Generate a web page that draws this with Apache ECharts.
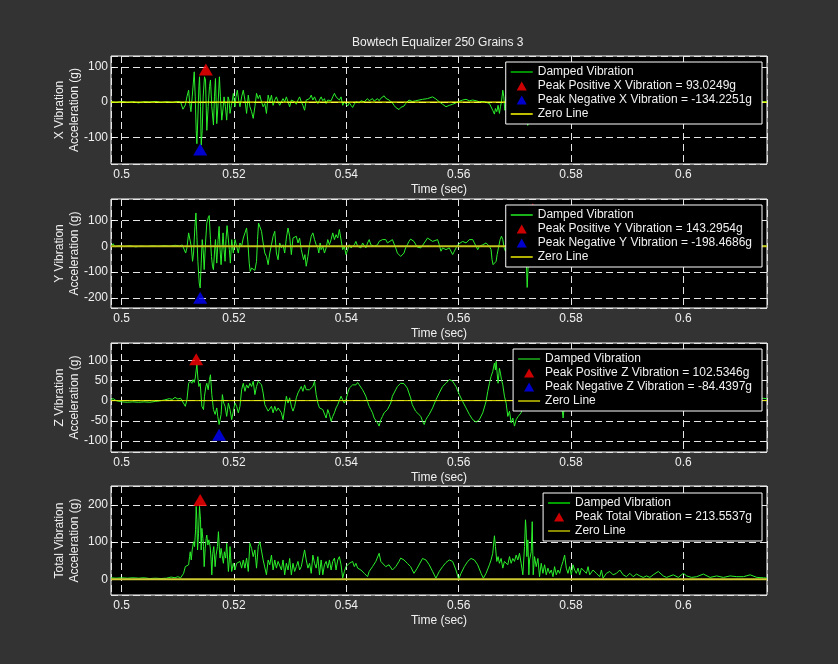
<!DOCTYPE html>
<html><head><meta charset="utf-8">
<script src="https://cdn.jsdelivr.net/npm/echarts@6/dist/echarts.min.js"></script>
<style>html,body{margin:0;padding:0;background:#333333;}#c{width:838px;height:664px;}</style>
</head><body><div id="c"></div>
<script>
const chartTitle = 'Bowtech Equalizer 250 Grains 3';
const timeRange = [0.4981, 0.6149];
const xLim = [-175.5, 131];
const yLim = [-238.5, 183];
const zLim = [-127, 142.6];
const totalLim = [-42.3, 251];

// [time (s), acceleration (g)]
const xVib = [
[0.4981,1],[0.4990,-1],[0.5000,2],[0.5010,-1],[0.5020,1],[0.5030,-2],[0.5040,1],[0.5050,0],[0.5060,2],[0.5070,-1],[0.5080,1],[0.5090,-1],[0.5100,2],[0.5105,0],
[0.51091,-20],[0.51133,-8],[0.51162,15],[0.51192,34],[0.51209,1],[0.51233,-27],[0.51256,15],[0.51280,63],[0.51292,86],[0.51310,15],[0.51327,-80],[0.51339,-118],
[0.51357,-42],[0.51375,44],[0.51386,72],[0.51404,-13],[0.51416,-122],[0.51434,-80],[0.51451,15],[0.51475,72],[0.51493,63],[0.51516,-80],[0.51540,-13],[0.51564,44],
[0.51581,63],[0.51605,-13],[0.51634,-65],[0.51652,15],[0.51670,67],[0.51693,-61],[0.51717,-4],[0.51740,72],[0.51758,15],[0.51782,-51],[0.51805,-18],[0.51823,15],
[0.51847,-13],[0.51870,-51],[0.51894,15],[0.51912,6],[0.51929,-32],[0.51953,-9],[0.51971,6],[0.51988,25],[0.52018,-13],[0.52035,15],[0.52059,34],[0.52083,6],
[0.52106,-13],[0.52136,15],[0.52165,34],[0.52195,6],[0.52224,-32],[0.52254,20],[0.52283,-13],[0.52313,-27],[0.52342,-46],[0.52372,-13],[0.52401,25],[0.52431,10],
[0.52460,20],[0.52490,1],[0.52519,-13],[0.52549,-4],[0.52578,-32],[0.52608,20],[0.52637,1],[0.52667,20],[0.52696,-9],[0.52726,6],[0.52755,15],[0.52785,1],
[0.52814,-9],[0.52844,1],[0.52873,10],[0.52903,1],[0.52932,15],[0.52962,1],[0.52991,-13],[0.53021,6],[0.53050,10],[0.53080,1],[0.53109,-6],[0.53139,6],
[0.53168,15],[0.53198,1],[0.53227,-9],[0.53257,-23],[0.53286,6],[0.53316,1],[0.53345,10],[0.53375,20],[0.53404,6],[0.53434,15],[0.53463,4],[0.53493,-4],
[0.53522,6],[0.53552,15],[0.53581,4],[0.53611,10],[0.53640,-4],[0.53670,6],[0.53699,10],[0.53729,4],[0.53758,15],[0.53788,25],[0.53817,15],[0.53847,20],
[0.53876,6],[0.53906,15],[0.53935,-9],[0.53965,1],[0.53994,-4],[0.54024,-11],[0.54053,-2],[0.54083,-9],[0.54112,-15],[0.54142,-6],[0.54171,1],[0.54201,6],
[0.54230,-2],[0.54260,4],[0.54289,8],[0.54319,1],[0.54348,6],[0.54378,10],[0.54407,4],[0.54437,9],[0.54466,10],[0.54496,3],[0.54525,8],[0.54555,10],
[0.54584,4],[0.54614,11],[0.54643,15],[0.54673,18],[0.54702,11],[0.54732,6],[0.54761,6],[0.54820,-2],[0.54850,-9],[0.54879,-15],[0.54909,-19],[0.54938,-21],
[0.54968,-15],[0.54997,-11],[0.55027,-11],[0.55056,-4],[0.55115,6],[0.55174,2],[0.55233,4],[0.55357,8],[0.55446,10],[0.55536,15],[0.55595,9],[0.55655,1],
[0.55714,-6],[0.55774,-13],[0.55833,-9],[0.55893,-6],[0.55952,-2],[0.56000,2],[0.56071,6],[0.56131,8],[0.56190,4],[0.56250,6],[0.56310,4],[0.56369,1],
[0.56429,2],[0.56488,0],[0.56548,-4],[0.56577,-9],[0.56607,-23],[0.56637,-34],[0.56655,-18],[0.56679,-27],[0.56702,-9],[0.56726,-32],[0.56744,-13],[0.56762,1],
[0.56786,34],[0.56804,15],[0.56821,-23],[0.56833,6],[0.56857,29],[0.56875,1],[0.56893,25],[0.56917,10],[0.5695,-20],[0.5700,30],[0.5705,-15],[0.5710,25],
[0.5715,-30],[0.5718,40],[0.5721,-40],[0.5723,-66],[0.5726,35],[0.5730,-20],[0.5735,15],[0.5740,-10],[0.5750,8],[0.5760,-6],[0.5770,5],[0.5785,-4],
[0.5800,3],[0.5820,-3],[0.5840,2],[0.5860,-2],[0.5880,2],[0.5900,-1],[0.5930,1],[0.5960,-1],[0.6000,1],[0.6040,-1],[0.6080,1],[0.6120,0],[0.6149,1]
];

const yVib = [
[0.4981,2],[0.4985,10],[0.4988,-2],[0.4995,3],[0.5005,-1],[0.5015,2],[0.5025,-2],[0.5035,1],[0.5045,-1],[0.5055,2],[0.5065,0],[0.5075,3],[0.5085,1],[0.5095,4],[0.5103,2],[0.5108,5],
[0.51139,-26],[0.51162,-6],[0.51192,52],[0.51221,58],[0.51239,0],[0.51262,-58],[0.51280,-26],[0.51304,77],[0.51322,129],[0.51339,39],[0.51357,-58],[0.51381,-142],
[0.51398,-161],[0.51416,-65],[0.51434,26],[0.51451,-13],[0.51469,-90],[0.51493,13],[0.51516,90],[0.51540,110],[0.51558,119],[0.51581,26],[0.51599,-39],[0.51617,-77],
[0.51634,-90],[0.51652,-26],[0.51670,26],[0.51693,-65],[0.51717,26],[0.51735,77],[0.51752,-13],[0.51770,-71],[0.51788,-6],[0.51805,52],[0.51823,-13],[0.51841,-58],
[0.51858,26],[0.51876,80],[0.51900,77],[0.51917,-13],[0.51935,-65],[0.51959,26],[0.51988,-26],[0.52018,26],[0.52047,32],[0.52077,-26],[0.52106,13],[0.52136,0],
[0.52165,32],[0.52195,26],[0.52224,71],[0.52248,13],[0.52271,-65],[0.52289,-97],[0.52313,-84],[0.52342,-77],[0.52372,-93],[0.52401,-58],[0.52419,26],[0.52437,90],
[0.52460,90],[0.52490,58],[0.52519,13],[0.52549,-26],[0.52578,-39],[0.52608,-71],[0.52637,-26],[0.52667,6],[0.52696,39],[0.52726,58],[0.52755,-26],[0.52785,-52],
[0.52814,13],[0.52844,-6],[0.52873,6],[0.52903,-26],[0.52932,32],[0.52962,71],[0.52991,39],[0.53021,-32],[0.53050,32],[0.53080,26],[0.53109,39],[0.53139,13],
[0.53168,32],[0.53198,-13],[0.53239,-52],[0.53263,-32],[0.53286,-77],[0.53316,-39],[0.53345,6],[0.53375,39],[0.53404,52],[0.53434,26],[0.53463,6],[0.53493,-6],
[0.53510,-26],[0.53534,13],[0.53552,-13],[0.53581,0],[0.53611,-26],[0.53640,-6],[0.53670,26],[0.53699,6],[0.53729,26],[0.53758,52],[0.53788,26],[0.53817,45],
[0.53847,32],[0.53876,65],[0.53906,58],[0.53935,-13],[0.53965,0],[0.53994,-32],[0.54024,-13],[0.54053,6],[0.54083,-6],[0.54112,-13],[0.54142,6],[0.54171,19],
[0.54201,0],[0.54230,6],[0.54260,-6],[0.54289,13],[0.54319,6],[0.54348,-6],[0.54378,13],[0.54407,26],[0.54437,6],[0.54466,13],[0.54496,0],[0.54525,-6],
[0.54555,6],[0.54584,19],[0.54614,13],[0.54643,26],[0.54673,32],[0.54702,26],[0.54732,13],[0.54761,13],[0.54820,26],[0.54879,-6],[0.54909,-26],[0.54938,-32],
[0.54968,-39],[0.54997,-39],[0.55027,-26],[0.55056,-6],[0.55086,6],[0.55115,19],[0.55145,28],[0.55174,28],[0.55204,19],[0.55233,13],[0.55263,-3],[0.55327,-6],
[0.55387,13],[0.55446,32],[0.55476,26],[0.55536,19],[0.55565,26],[0.55625,26],[0.55655,6],[0.55685,-19],[0.55714,-6],[0.55774,-13],[0.55833,-6],[0.55893,-32],
[0.55923,-19],[0.55982,6],[0.56012,13],[0.56071,19],[0.56131,13],[0.56190,26],[0.56220,19],[0.56250,26],[0.56280,13],[0.56310,0],[0.56339,-13],[0.56369,0],
[0.56429,6],[0.56488,13],[0.56518,19],[0.56548,0],[0.56577,-13],[0.56595,-52],[0.56613,-71],[0.56637,-65],[0.56667,-58],[0.56685,-32],[0.56708,-6],[0.56738,26],
[0.56762,39],[0.56786,26],[0.56810,-6],[0.56833,-19],[0.56857,0],[0.56881,13],[0.5695,-30],[0.5700,40],[0.5705,-20],[0.5710,50],[0.5714,-40],[0.5718,60],
[0.5720,-30],[0.5722,-159],[0.5724,-60],[0.5727,70],[0.5731,-30],[0.5735,30],[0.5740,-15],[0.5750,10],[0.5760,-8],[0.5775,6],[0.5790,-4],[0.5810,3],
[0.5830,-3],[0.5860,2],[0.5900,-1],[0.5950,1],[0.6000,-1],[0.6060,1],[0.6120,0],[0.6149,1]
];

const zVib = [
[0.4981,3],[0.4985,5],[0.4990,0],[0.5000,-3],[0.5010,-4],[0.5020,-3],[0.5030,-4],[0.5040,-3],[0.5050,-4],[0.5060,-2],[0.5070,0],[0.5077,2],[0.5085,5],[0.5090,3],[0.5095,8],[0.5100,4],[0.5105,6],[0.5108,2],
[0.51133,-14],[0.51162,2],[0.51192,43],[0.51221,48],[0.51251,43],[0.51268,52],[0.51292,45],[0.51310,56],[0.51327,76],[0.51339,89],[0.51357,56],[0.51375,35],
[0.51398,43],[0.51428,-14],[0.51457,-22],[0.51475,11],[0.51499,35],[0.51516,43],[0.51540,27],[0.51564,52],[0.51581,64],[0.51605,15],[0.51634,-22],[0.51664,-34],
[0.51693,-18],[0.51711,-39],[0.51735,-59],[0.51752,-55],[0.51770,-34],[0.51793,15],[0.51817,-6],[0.51841,-14],[0.51870,-39],[0.51900,-6],[0.51929,-22],[0.51959,-47],
[0.51988,-26],[0.52018,-6],[0.52047,-14],[0.52077,-30],[0.52106,-14],[0.52136,27],[0.52165,43],[0.52195,23],[0.52224,39],[0.52254,31],[0.52283,43],[0.52313,35],
[0.52342,48],[0.52372,15],[0.52401,35],[0.52431,48],[0.52460,52],[0.52490,39],[0.52519,19],[0.52549,-10],[0.52578,-18],[0.52608,-26],[0.52637,-22],[0.52667,-14],
[0.52696,-30],[0.52726,-14],[0.52755,-26],[0.52785,-18],[0.52814,-14],[0.52844,-30],[0.52873,-47],[0.52903,-18],[0.52932,11],[0.52962,-6],[0.52991,7],[0.53021,-14],
[0.53050,-26],[0.53080,-14],[0.53109,7],[0.53139,19],[0.53168,27],[0.53198,35],[0.53227,23],[0.53257,39],[0.53286,27],[0.53316,31],[0.53345,27],[0.53375,31],
[0.53404,35],[0.53434,48],[0.53463,15],[0.53493,-6],[0.53522,-18],[0.53552,-14],[0.53581,-22],[0.53611,-18],[0.53640,-43],[0.53670,-22],[0.53699,-34],[0.53729,-51],
[0.53758,-39],[0.53788,-30],[0.53817,-18],[0.53847,-10],[0.53876,-14],[0.53906,11],[0.53935,2],[0.53965,-6],[0.53994,2],[0.54024,19],[0.54053,31],[0.54083,35],
[0.54112,39],[0.54142,43],[0.54171,39],[0.54201,45],[0.54230,39],[0.54260,35],[0.54289,27],[0.54319,19],[0.54348,11],[0.54378,-2],[0.54407,-14],[0.54437,-22],
[0.54466,-30],[0.54496,-43],[0.54525,-47],[0.54555,-55],[0.54584,-63],[0.54614,-47],[0.54643,-39],[0.54673,-30],[0.54702,-26],[0.54732,-22],[0.54761,-18],[0.54791,-6],
[0.54820,11],[0.54850,19],[0.54879,27],[0.54909,35],[0.54938,39],[0.54968,43],[0.54997,45],[0.55027,42],[0.55056,39],[0.55086,31],[0.55115,19],[0.55145,7],
[0.55174,-10],[0.55204,-18],[0.55233,-26],[0.55263,-30],[0.55327,-39],[0.55357,-51],[0.55387,-59],[0.55417,-47],[0.55446,-40],[0.55476,-34],[0.55506,-37],[0.55536,-18],
[0.55595,2],[0.55655,19],[0.55714,35],[0.55774,43],[0.55833,52],[0.55893,48],[0.55952,35],[0.56012,15],[0.56071,-2],[0.56131,-18],[0.56190,-34],[0.56250,-47],
[0.56310,-53],[0.56369,-47],[0.56429,-30],[0.56488,-2],[0.56518,23],[0.56548,43],[0.56577,60],[0.56607,72],[0.56637,93],[0.56655,76],[0.56667,97],[0.56685,68],
[0.56702,43],[0.56726,80],[0.56744,68],[0.56762,52],[0.56786,39],[0.56815,11],[0.56845,-6],[0.56875,-39],[0.56905,-26],[0.56935,-55],[0.56964,-43],[0.56994,-63],
[0.57024,-47],[0.57054,-40],[0.57083,-43],[0.57113,-30],[0.5715,-10],[0.5720,15],[0.5725,30],[0.5730,10],[0.5735,25],[0.5740,5],[0.5750,15],[0.5760,0],
[0.5770,10],[0.5780,-5],[0.5784,-20],[0.5786,-43],[0.5788,-15],[0.5795,5],[0.5810,15],[0.5830,10],[0.5850,0],[0.5870,5],[0.5900,3],[0.5950,-2],
[0.6000,2],[0.6050,0],[0.6100,3],[0.6140,6],[0.6149,5]
];

const totalVib = [
[0.4981,4],[0.4990,3],[0.5000,4],[0.5010,3],[0.5020,4],[0.5030,3],[0.5040,4],[0.5050,2],[0.5060,3],[0.5070,2],[0.5080,3],[0.5088,6],[0.5095,4],[0.5100,7],[0.5105,4],
[0.51074,4],[0.51103,16],[0.51133,34],[0.51162,32],[0.51192,39],[0.51209,61],[0.51221,74],[0.51239,52],[0.51256,79],[0.51280,101],[0.51298,88],[0.51316,133],
[0.51327,196],[0.51339,160],[0.51351,79],[0.51369,124],[0.51386,196],[0.51404,160],[0.51416,79],[0.51428,137],[0.51445,110],[0.51457,88],[0.51469,34],[0.51487,83],
[0.51505,110],[0.51516,119],[0.51534,92],[0.51552,106],[0.51575,88],[0.51593,52],[0.51605,12],[0.51622,70],[0.51640,88],[0.51664,34],[0.51681,65],[0.51705,88],
[0.51723,128],[0.51740,79],[0.51752,57],[0.51770,83],[0.51788,65],[0.51811,43],[0.51829,74],[0.51852,57],[0.51870,97],[0.51888,52],[0.51900,21],[0.51917,52],
[0.51929,88],[0.51947,43],[0.51959,21],[0.51988,43],[0.52018,25],[0.52047,43],[0.52077,39],[0.52106,48],[0.52136,30],[0.52165,52],[0.52195,30],[0.52224,57],
[0.52254,21],[0.52283,97],[0.52313,83],[0.52342,61],[0.52372,79],[0.52401,30],[0.52431,88],[0.52460,101],[0.52490,97],[0.52519,52],[0.52549,48],[0.52578,12],
[0.52608,52],[0.52637,39],[0.52667,65],[0.52696,25],[0.52726,52],[0.52755,30],[0.52785,48],[0.52814,43],[0.52844,25],[0.52873,52],[0.52903,12],[0.52932,43],
[0.52962,25],[0.52991,56],[0.53021,12],[0.53050,43],[0.53080,21],[0.53109,34],[0.53139,48],[0.53168,25],[0.53198,34],[0.53227,57],[0.53257,79],[0.53286,52],
[0.53316,30],[0.53345,43],[0.53375,16],[0.53404,65],[0.53434,43],[0.53463,30],[0.53493,61],[0.53522,12],[0.53552,52],[0.53581,12],[0.53611,39],[0.53640,48],
[0.53670,30],[0.53699,52],[0.53729,25],[0.53758,48],[0.53788,57],[0.53817,25],[0.53847,52],[0.53876,61],[0.53906,39],[0.53935,3],[0.53965,21],[0.53994,34],
[0.54024,30],[0.54053,43],[0.54083,39],[0.54112,48],[0.54142,34],[0.54171,43],[0.54201,30],[0.54260,25],[0.54319,16],[0.54378,7],[0.54407,21],[0.54466,34],
[0.54525,48],[0.54584,70],[0.54614,48],[0.54643,43],[0.54702,34],[0.54761,39],[0.54820,25],[0.54879,34],[0.54938,48],[0.54968,57],[0.55027,52],[0.55086,43],
[0.55145,34],[0.55204,16],[0.55263,30],[0.55357,56],[0.55417,52],[0.55476,39],[0.55536,21],[0.55595,3],[0.55655,21],[0.55714,34],[0.55774,45],[0.55833,52],
[0.55893,48],[0.55952,25],[0.56000,0],[0.56042,16],[0.56101,34],[0.56161,48],[0.56220,56],[0.56280,52],[0.56339,39],[0.56399,16],[0.56440,3],[0.56488,16],
[0.56548,39],[0.56577,52],[0.56607,70],[0.56637,117],[0.56655,88],[0.56679,48],[0.56702,61],[0.56726,43],[0.56756,56],[0.56786,30],[0.56815,48],[0.56845,52],
[0.56875,39],[0.56905,61],[0.56935,43],[0.56964,56],[0.56994,48],[0.57024,65],[0.57054,52],[0.57083,70],[0.57113,43],[0.57143,12],[0.57173,88],[0.57190,160],
[0.57202,133],[0.57214,61],[0.57232,106],[0.57250,12],[0.57262,52],[0.57292,74],[0.57310,155],[0.57327,12],[0.57351,61],[0.57381,34],[0.57411,56],[0.57440,7],
[0.57470,43],[0.57500,16],[0.57530,39],[0.57560,12],[0.57589,30],[0.57619,16],[0.57649,25],[0.57679,7],[0.57708,34],[0.57738,12],[0.57768,25],[0.57798,16],
[0.57827,34],[0.57857,48],[0.57887,65],[0.57917,30],[0.57946,16],[0.57976,34],[0.58006,12],[0.58036,39],[0.58065,25],[0.58095,16],[0.58125,30],[0.58155,12],
[0.58185,30],[0.58214,25],[0.58274,16],[0.58304,34],[0.58333,12],[0.58393,25],[0.58452,16],[0.58512,7],[0.58542,25],[0.58571,3],[0.58631,16],[0.58691,21],
[0.58750,12],[0.58810,16],[0.58869,25],[0.58929,12],[0.58988,7],[0.59048,16],[0.59107,7],[0.59167,14],[0.59226,9],[0.59286,5],[0.59345,9],[0.59405,5],
[0.59464,12],[0.59554,21],[0.59643,9],[0.59702,5],[0.59821,12],[0.59911,5],[0.60000,16],[0.60060,9],[0.60149,5],[0.60238,7],[0.60357,14],[0.60476,5],
[0.60595,9],[0.60714,5],[0.60833,9],[0.60952,7],[0.61071,7],[0.61190,12],[0.61310,5],[0.61429,4],[0.61494,3]
];

const xPeakPos = [[0.51499, 93.0249]];
const xPeakNeg = [[0.51398, -134.2251]];
const yPeakPos = [[0.57321, 143.2954]];
const yPeakNeg = [[0.51398, -198.4686]];
const zPeakPos = [[0.51327, 102.5346]];
const zPeakNeg = [[0.51735, -84.4397]];
const totalPeak = [[0.51398, 213.5537]];

const FONT = 'Arial, "Liberation Sans", Helvetica, sans-serif';
const FS = 12;
const TICK_FS = 11;
const TXT = '#f0f0f0';
const TRI_ICON = 'path://M4.5,0L9,8L0,8Z';
const lineIcon = w => 'path://M0,0H22V' + w + 'H0Z';

const panels = [
  {data: xVib, lim: xLim, yName: 'X Vibration\nAcceleration (g)', top: 56, height: 108, legendTop: 62,
   peaks: [{name: 'Peak Positive X Vibration = 93.0249g', data: xPeakPos, color: '#ff0000'},
           {name: 'Peak Negative X Vibration = -134.2251g', data: xPeakNeg, color: '#0000ff'}],
   step: 100, zeroColor: '#ffff00', zeroWidth: 1.2, legLine: '#009000', legLineW: 2, legZero: '#ffff00', legZeroW: 1.5},
  {data: yVib, lim: yLim, yName: 'Y Vibration\nAcceleration (g)', top: 199, height: 109, legendTop: 205,
   peaks: [{name: 'Peak Positive Y Vibration = 143.2954g', data: yPeakPos, color: '#ff0000'},
           {name: 'Peak Negative Y Vibration = -198.4686g', data: yPeakNeg, color: '#0000ff'}],
   step: 100, zeroColor: '#c4c41c', zeroWidth: 2, legLine: '#22ee22', legLineW: 1.5, legZero: '#b0b000', legZeroW: 2},
  {data: zVib, lim: zLim, yName: 'Z Vibration\nAcceleration (g)', top: 343, height: 109, legendTop: 349,
   peaks: [{name: 'Peak Positive Z Vibration = 102.5346g', data: zPeakPos, color: '#ff0000'},
           {name: 'Peak Negative Z Vibration = -84.4397g', data: zPeakNeg, color: '#0000ff'}],
   step: 50, zeroColor: '#e8e800', zeroWidth: 1, legLine: '#22dd22', legLineW: 1.2, legZero: '#c8c800', legZeroW: 1.5},
  {data: totalVib, lim: totalLim, yName: 'Total Vibration\nAcceleration (g)', top: 486, height: 109, legendTop: 493,
   peaks: [{name: 'Peak Total Vibration = 213.5537g', data: totalPeak, color: '#ff0000'}],
   step: 100, zeroColor: '#cfc830', zeroWidth: 2, legLine: '#00a000', legLineW: 2, legZero: '#b8b800', legZeroW: 1.5}
];

const grid = [], xAxis = [], yAxis = [], series = [], legend = [];
const dashed = {show: true, lineStyle: {color: '#e6e6e6', type: [7, 4], width: 1}};
panels.forEach((p, i) => {
  grid.push({left: 111, width: 656, top: p.top, height: p.height, show: true, backgroundColor: '#000000',
             borderColor: '#ffffff', borderWidth: 1, containLabel: false});
  xAxis.push({type: 'value', gridIndex: i, min: timeRange[0], max: timeRange[1], minInterval: 0.02, maxInterval: 0.02,
    name: 'Time (sec)', nameLocation: 'middle', nameGap: 20, nameMoveOverlap: false,
    nameTextStyle: {color: TXT, fontSize: FS, fontFamily: FONT},
    axisLine: {show: false}, axisTick: {show: true, inside: true, length: 4, lineStyle: {color: '#ffffff'}},
    axisLabel: {color: TXT, fontSize: FS, fontFamily: FONT, margin: 5, showMinLabel: false, showMaxLabel: false},
    splitLine: dashed});
  yAxis.push({type: 'value', gridIndex: i, min: p.lim[0], max: p.lim[1], minInterval: p.step, maxInterval: p.step,
    name: p.yName, nameLocation: 'middle', nameRotate: 90, nameGap: 28.5, nameMoveOverlap: false,
    nameTextStyle: {color: TXT, fontSize: FS, fontFamily: FONT, lineHeight: 15},
    axisLine: {show: false}, axisTick: {show: true, inside: true, length: 4, lineStyle: {color: '#ffffff'}},
    axisLabel: {color: TXT, fontSize: TICK_FS + 1, fontFamily: FONT, margin: 3, showMinLabel: false, showMaxLabel: false},
    splitLine: dashed});
  series.push({type: 'line', name: 'Damped Vibration', xAxisIndex: i, yAxisIndex: i, data: p.data,
    symbol: 'none', lineStyle: {color: '#2bef2b', width: 1}, itemStyle: {color: '#2bef2b'}, z: 2, silent: true});
  series.push({type: 'line', name: 'Zero Line', xAxisIndex: i, yAxisIndex: i, data: [[timeRange[0], 0], [timeRange[1], 0]],
    symbol: 'none', lineStyle: {color: p.zeroColor, width: p.zeroWidth}, itemStyle: {color: p.zeroColor}, z: 2, silent: true});
  p.peaks.forEach(pk => {
    series.push({type: 'scatter', name: pk.name, xAxisIndex: i, yAxisIndex: i, data: pk.data,
      symbol: 'triangle', symbolSize: [14, 12], itemStyle: {color: pk.color}, z: 3, silent: true});
  });
  const ld = [{name: 'Damped Vibration', icon: lineIcon(p.legLineW), itemStyle: {color: p.legLine, borderWidth: 0}}];
  p.peaks.forEach(pk => ld.push({name: pk.name, icon: TRI_ICON, itemStyle: {color: pk.color, borderWidth: 0}}));
  ld.push({name: 'Zero Line', icon: lineIcon(p.legZeroW), itemStyle: {color: p.legZero, borderWidth: 0}});
  legend.push({orient: 'vertical', right: 76, top: p.legendTop, padding: [3, 10, 3, 5], itemGap: 0,
    itemWidth: 22, itemHeight: 9, symbolKeepAspect: true, backgroundColor: '#000000', borderColor: '#ffffff', borderWidth: 1, borderRadius: 0,
    selectedMode: false, textStyle: {color: TXT, fontSize: FS, fontFamily: FONT, lineHeight: 14}, data: ld, z: 10});
});

const chart = echarts.init(document.getElementById('c'), null, {renderer: 'canvas'});
chart.setOption({
  backgroundColor: '#333333',
  animation: false,
  title: {text: chartTitle, left: 352, top: 37, padding: 0,
          textStyle: {color: TXT, fontSize: FS, fontWeight: 'normal', fontFamily: FONT}},
  grid, xAxis, yAxis, series, legend
});
</script></body></html>
